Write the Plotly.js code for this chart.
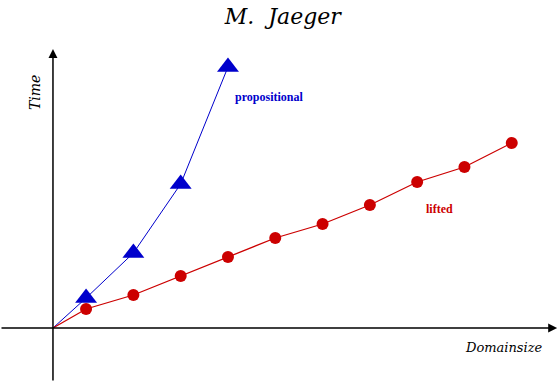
<!DOCTYPE html>
<html>
<head>
<meta charset="utf-8">
<script src="https://cdn.plot.ly/plotly-3.0.1.min.js"></script>
<style>
  html, body { margin: 0; padding: 0; background: #fff; }
  #jaegerPlot { width: 560px; height: 382px; }
</style>
</head>
<body>
<div id="jaegerPlot"></div>
<script>
// domain size vs. time (arbitrary units)
let propX = [0, 0.7, 1.7, 2.7, 3.7];
let propY = [0, 3.0, 7.5, 14.4, 26.1];

let liftedX = [0, 0.7, 1.7, 2.7, 3.7, 4.7, 5.7, 6.7, 7.7, 8.7, 9.7];
let liftedY = [0, 1.9, 3.3, 5.2, 7.1, 9.0, 10.4, 12.3, 14.6, 16.1, 18.5];

let blue = '#0000cc';
let red = '#cc0000';

function makeJaegerPlot(plotDiv) {

  // no marker on the origin point
  let propSizes = propX.map((v, i) => i === 0 ? 0 : 19);
  let liftedSizes = liftedX.map((v, i) => i === 0 ? 0 : 12);

  let propTrace = {
    x: propX,
    y: propY,
    type: 'scatter',
    mode: 'lines+markers',
    line: { color: blue, width: 1 },
    marker: { symbol: 'triangle-up', size: propSizes, color: blue, opacity: 1, line: { width: 0 } }
  };

  let liftedTrace = {
    x: liftedX,
    y: liftedY,
    type: 'scatter',
    mode: 'lines+markers',
    line: { color: red, width: 1.3 },
    marker: { symbol: 'circle', size: liftedSizes, color: red, opacity: 1, line: { width: 0 } }
  };

  let serifItalic = { family: 'DejaVu Serif', color: '#000' };

  let layout = {
    width: 560,
    height: 382,
    margin: { l: 0, r: 0, t: 0, b: 0 },
    paper_bgcolor: '#fff',
    plot_bgcolor: '#fff',
    showlegend: false,
    title: {
      text: '<i>M.  Jaeger</i>',
      x: 0.505,
      xanchor: 'center',
      y: 0.978,
      yanchor: 'top',
      font: { family: 'DejaVu Serif', size: 22, color: '#000' }
    },
    xaxis: { range: [-1.12, 10.72], visible: false, fixedrange: true },
    yaxis: { range: [-5.4, 32.8], visible: false, fixedrange: true },
    annotations: [
      // x axis with arrow
      {
        x: 10.66, y: 0, ax: -1.12, ay: 0,
        xref: 'x', yref: 'y', axref: 'x', ayref: 'y',
        text: '', showarrow: true,
        arrowhead: 2, arrowsize: 1.2, arrowwidth: 1.5, arrowcolor: '#000'
      },
      // y axis with arrow
      {
        x: 0, y: 27.9, ax: 0, ay: -5.4,
        xref: 'x', yref: 'y', axref: 'x', ayref: 'y',
        text: '', showarrow: true,
        arrowhead: 2, arrowsize: 1.2, arrowwidth: 1.5, arrowcolor: '#000'
      },
      {
        xref: 'paper', yref: 'paper',
        x: 35 / 560, y: 1 - 93 / 382,
        xanchor: 'center', yanchor: 'middle',
        text: '<i>Time</i>', textangle: -90, showarrow: false,
        font: Object.assign({ size: 14 }, serifItalic)
      },
      {
        xref: 'paper', yref: 'paper',
        x: 504 / 560, y: 1 - 347 / 382,
        xanchor: 'center', yanchor: 'middle',
        text: '<i>Domainsize</i>', showarrow: false,
        font: Object.assign({ size: 13 }, serifItalic)
      },
      {
        xref: 'paper', yref: 'paper',
        x: 269 / 560, y: 1 - 97 / 382,
        xanchor: 'center', yanchor: 'middle',
        text: '<b>propositional</b>', showarrow: false,
        font: { family: 'Liberation Serif', size: 12, color: blue }
      },
      {
        xref: 'paper', yref: 'paper',
        x: 439 / 560, y: 1 - 209 / 382,
        xanchor: 'center', yanchor: 'middle',
        text: '<b>lifted</b>', showarrow: false,
        font: { family: 'Liberation Serif', size: 12, color: red }
      }
    ]
  };

  let config = { staticPlot: true };

  Plotly.newPlot(plotDiv, [propTrace, liftedTrace], layout, config);
}

makeJaegerPlot(document.getElementById('jaegerPlot'));
</script>
</body>
</html>
